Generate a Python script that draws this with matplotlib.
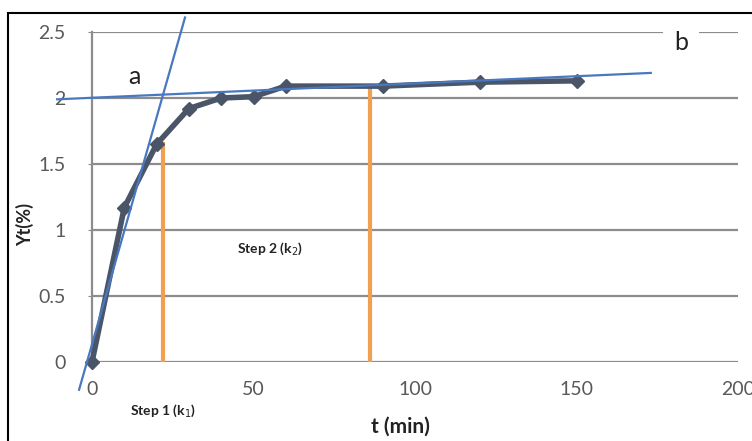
import matplotlib.pyplot as plt
from matplotlib.patches import Rectangle

# data
t_min = [0, 10, 20, 30, 40, 50, 60, 90, 120, 150]
yt = [0, 1.17, 1.65, 1.92, 2.0, 2.01, 2.09, 2.09, 2.12, 2.13]

# tangent lines a (initial slope) and b (plateau)
line_a_x = [-4, 28.8]
line_a_y = [-0.21, 2.61]
line_b_x = [-10.8, 173]
line_b_y = [1.99, 2.19]

# orange step separators
step_x = [22, 86]
step_top = [1.65, 2.09]

x_ticks = [0, 50, 100, 150, 200]
y_ticks = [0, 0.5, 1, 1.5, 2, 2.5]

plt.rcParams['font.family'] = ['Lato', 'DejaVu Sans']

fig = plt.figure(figsize=(7.52, 4.41), dpi=100)
ax = fig.add_axes([92 / 752, 1 - 362 / 441, (738 - 92) / 752, (362 - 32) / 441])

ax.set_xlim(0, 200)
ax.set_ylim(0, 2.5)

for y in y_ticks:
    ax.axhline(y, color='#8c8c8c', lw=1.6, zorder=1)

for x, top in zip(step_x, step_top):
    ax.plot([x, x], [0, top], color='#f0a050', lw=3, zorder=2)

ax.plot(t_min, yt, color='#4a5668', lw=4, marker='D', markersize=7.5,
        markeredgecolor='#4a5668', zorder=3, clip_on=False)

ax.plot(line_a_x, line_a_y, color='#4a78c0', lw=1.6, zorder=4, clip_on=False)
ax.plot(line_b_x, line_b_y, color='#4a78c0', lw=1.6, zorder=4, clip_on=False)

ax.text(13, 2.16, 'a', fontsize=18, color='#222222', ha='center', va='center')
ax.text(182.4, 2.42, 'b', fontsize=18, color='#222222', ha='center', va='center',
        bbox=dict(facecolor='white', edgecolor='none', pad=8), zorder=5)

ax.text(55, 0.86, 'Step 2 (k$_2$)', fontsize=10, fontweight='bold', ha='center',
        va='center', color='#222222')
ax.text(22, -0.37, 'Step 1 (k$_1$)', fontsize=10, fontweight='bold', ha='center',
        va='center', color='#222222')

ax.set_xticks(x_ticks)
ax.set_yticks(y_ticks)
ax.set_yticklabels(['0', '0.5', '1', '1.5', '2', '2.5'])
ax.tick_params(axis='both', labelsize=14, colors='#595959', length=0)
ax.tick_params(axis='x', pad=14)
ax.tick_params(axis='y', length=3, color='#8c8c8c', pad=16)

for side in ['top', 'right', 'bottom']:
    ax.spines[side].set_visible(False)
ax.spines['left'].set_color('#8c8c8c')
ax.spines['left'].set_linewidth(1.6)

ax.set_xlabel('t (min)', fontsize=15, fontweight='bold', color='#222222')
ax.xaxis.set_label_coords((400 - 92) / 646, -(427 - 362) / 330)
ax.set_ylabel('Yt(%)', fontsize=13, fontweight='bold', color='#222222')
ax.yaxis.set_label_coords(-(92 - 25) / 646, (362 - 225) / 330)
ax.xaxis.label.set_va('center')
ax.yaxis.label.set_va('center')

# outer frame of the original picture
fig.patches.append(Rectangle((8 / 752, -0.1), 1.2, 1.1 - 13 / 441, transform=fig.transFigure,
                             fill=False, edgecolor='black', lw=1.5))

fig.savefig('out.png', dpi=100)
